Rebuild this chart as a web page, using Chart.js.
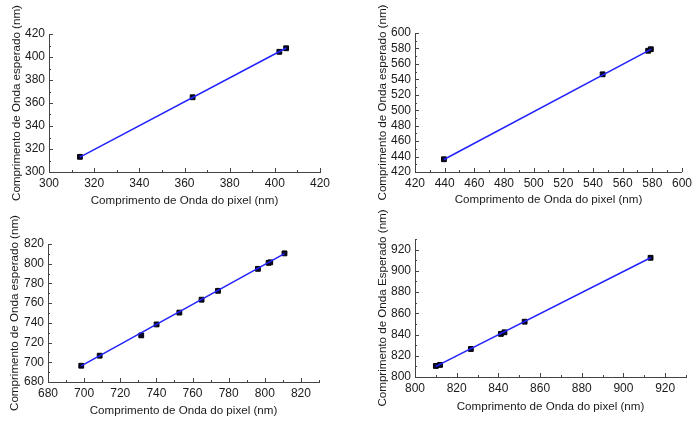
<!DOCTYPE html>
<html>
<head>
<meta charset="utf-8">
<script src="https://cdn.jsdelivr.net/npm/chart.js@4.4.1/dist/chart.umd.min.js"></script>
<style>
    html, body { margin: 0; padding: 0; background: #fff; }
    #wrap { position: relative; width: 696px; height: 421px; }
    .panel { position: absolute; }
</style>
</head>
<body>
<div id="wrap">
    <div class="panel" style="left:0;top:0;width:348px;height:210px"><canvas id="c1"></canvas></div>
    <div class="panel" style="left:348px;top:0;width:348px;height:210px"><canvas id="c2"></canvas></div>
    <div class="panel" style="left:0;top:210px;width:348px;height:211px"><canvas id="c3"></canvas></div>
    <div class="panel" style="left:348px;top:210px;width:348px;height:211px"><canvas id="c4"></canvas></div>
</div>
<script>
// Panel 1 (Hg, UV)
const p1X = [313.7, 363.6, 402.0, 405.0];
const p1Y = [313.2, 365.0, 404.5, 407.6];
const p1FitX = [313.7, 405.0];
const p1FitY = [313.0, 407.8];
const p1XTicks = [300, 320, 340, 360, 380, 400, 420];
const p1YTicks = [300, 320, 340, 360, 380, 400, 420];

// Panel 2 (Hg, visible)
const p2X = [439.5, 546.5, 577.2, 579.0];
const p2Y = [436.5, 546.5, 577.0, 579.0];
const p2FitX = [439.5, 579.0];
const p2FitY = [436.2, 578.8];
const p2XTicks = [420, 440, 460, 480, 500, 520, 540, 560, 580, 600];
const p2YTicks = [420, 440, 460, 480, 500, 520, 540, 560, 580, 600];

// Panel 3 (Ar, red)
const p3X = [698.4, 708.6, 731.6, 740.1, 752.7, 765.0, 774.1, 796.2, 802.1, 803.0, 810.9];
const p3Y = [696.5, 706.7, 727.3, 738.4, 750.4, 763.5, 772.5, 794.8, 800.9, 801.4, 810.5];
const p3FitX = [698.4, 810.9];
const p3FitY = [696.3, 810.3];
const p3XTicks = [680, 700, 720, 740, 760, 780, 800, 820];
const p3YTicks = [680, 700, 720, 740, 760, 780, 800, 820];

// Panel 4 (Ar, near IR)
const p4X = [810.0, 812.0, 826.8, 841.2, 842.9, 852.6, 913.0];
const p4Y = [810.4, 811.4, 826.4, 840.6, 842.1, 852.1, 912.3];
const p4FitX = [810.0, 913.0];
const p4FitY = [810.0, 912.3];
const p4XTicks = [800, 820, 840, 860, 880, 900, 920];
const p4YTicks = [800, 820, 840, 860, 880, 900, 920];

const xTitle = 'Comprimento de Onda do pixel (nm)';
const FONT = "'Liberation Sans', Arial, sans-serif";
const TEXT = '#1a1a1a';
const AXIS = '#444444';

// inward major + minor tick marks, like the original plot
const innerTicks = {
    id: 'innerTicks',
    afterDraw(chart) {
        const ctx = chart.ctx;
        ctx.save();
        ctx.strokeStyle = AXIS;
        ctx.lineWidth = 1;
        ['x', 'y'].forEach(id => {
            const s = chart.scales[id];
            const vals = s.ticks.map(t => t.value);
            const step = vals[1] - vals[0];
            const marks = [];
            vals.forEach(v => {
                marks.push([v, 4]);
                if (v + step / 2 <= s.max) marks.push([v + step / 2, 2]);
            });
            marks.forEach(([v, len]) => {
                const p = Math.round(s.getPixelForValue(v)) + 0.5;
                ctx.beginPath();
                if (id === 'x') {
                    ctx.moveTo(p, chart.chartArea.bottom);
                    ctx.lineTo(p, chart.chartArea.bottom - len);
                } else {
                    ctx.moveTo(chart.chartArea.left, p);
                    ctx.lineTo(chart.chartArea.left + len, p);
                }
                ctx.stroke();
            });
        });
        ctx.restore();
    }
};

function makePanel(id, cfg) {
    const pts = cfg.x.map((v, i) => ({ x: v, y: cfg.y[i] }));
    const fit = cfg.fitX.map((v, i) => ({ x: v, y: cfg.fitY[i] }));
    new Chart(document.getElementById(id), {
        type: 'scatter',
        data: {
            datasets: [
                {
                    data: fit,
                    showLine: true,
                    borderColor: '#2222ff',
                    borderWidth: 1.5,
                    pointRadius: 0
                },
                {
                    data: pts,
                    pointStyle: 'rect',
                    pointRadius: 3.4,
                    backgroundColor: '#0a0a30',
                    borderColor: '#000000',
                    borderWidth: 1
                }
            ]
        },
        options: {
            responsive: true,
            maintainAspectRatio: false,
            animation: false,
            layout: { padding: { left: 0, top: cfg.top, right: cfg.right, bottom: 0 } },
            plugins: { legend: { display: false }, tooltip: { enabled: false } },
            scales: {
                x: {
                    type: 'linear',
                    min: cfg.xMin,
                    max: cfg.xMax,
                    afterBuildTicks: s => { s.ticks = cfg.xTicks.map(v => ({ value: v })); },
                    afterFit: s => { s.height = cfg.xHeight; },
                    grid: { display: false, drawTicks: false },
                    border: { display: true, color: AXIS, width: 1 },
                    ticks: { color: TEXT, padding: 4, maxRotation: 0, autoSkip: false, font: { family: FONT, size: 12 } },
                    title: {
                        display: true,
                        text: xTitle,
                        color: TEXT,
                        padding: { top: 0, bottom: cfg.xTitlePad },
                        font: { family: FONT, size: 11.6 }
                    }
                },
                y: {
                    type: 'linear',
                    min: cfg.yMin,
                    max: cfg.yMax,
                    afterBuildTicks: s => { s.ticks = cfg.yTicks.map(v => ({ value: v })); },
                    afterFit: s => { s.width = cfg.yWidth; },
                    grid: { display: false, drawTicks: false },
                    border: { display: true, color: AXIS, width: 1 },
                    ticks: { color: TEXT, padding: 4, autoSkip: false, font: { family: FONT, size: 12 } },
                    title: {
                        display: true,
                        text: cfg.yTitle,
                        color: TEXT,
                        padding: { top: cfg.yTitlePad, bottom: 0 },
                        font: { family: FONT, size: 11.6 }
                    }
                }
            }
        },
        plugins: [innerTicks]
    });
}

makePanel('c1', {
    x: p1X, y: p1Y, fitX: p1FitX, fitY: p1FitY, xTicks: p1XTicks, yTicks: p1YTicks,
    xMin: 300, xMax: 420, yMin: 300, yMax: 420,
    top: 34, right: 28, xHeight: 38, yWidth: 49, xTitlePad: 2, yTitlePad: 10,
    yTitle: 'Comprimento de Onda esperado (nm)'
});

makePanel('c2', {
    x: p2X, y: p2Y, fitX: p2FitX, fitY: p2FitY, xTicks: p2XTicks, yTicks: p2YTicks,
    xMin: 420, xMax: 600, yMin: 420, yMax: 600,
    top: 33, right: 10, xHeight: 38, yWidth: 67, xTitlePad: 3, yTitlePad: 28,
    yTitle: 'Comprimento de Onda esperado (nm)'
});

makePanel('c3', {
    x: p3X, y: p3Y, fitX: p3FitX, fitY: p3FitY, xTicks: p3XTicks, yTicks: p3YTicks,
    xMin: 680, xMax: 830, yMin: 680, yMax: 820,
    top: 34, right: 29, xHeight: 39, yWidth: 48, xTitlePad: 3, yTitlePad: 8,
    yTitle: 'Comprimento de Onda esperado (nm)'
});

makePanel('c4', {
    x: p4X, y: p4Y, fitX: p4FitX, fitY: p4FitY, xTicks: p4XTicks, yTicks: p4YTicks,
    xMin: 800, xMax: 930, yMin: 800, yMax: 930,
    top: 29, right: 10, xHeight: 44, yWidth: 67, xTitlePad: 7, yTitlePad: 28,
    yTitle: 'Comprimento de Onda Esperado (nm)'
});
</script>
</body>
</html>
